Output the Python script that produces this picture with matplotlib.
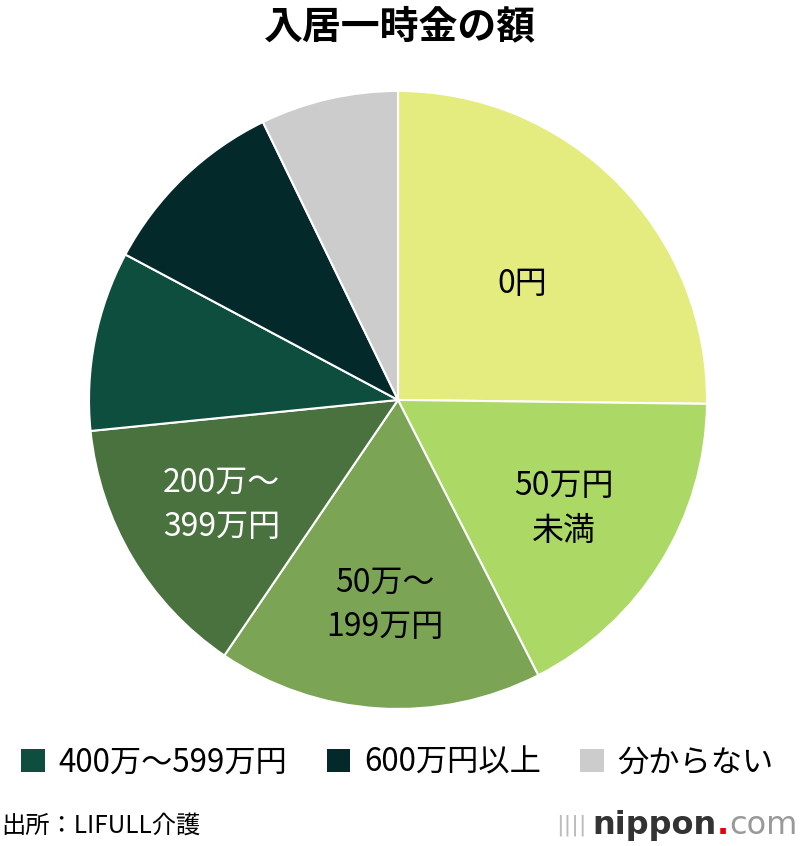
import matplotlib
matplotlib.use("Agg")
from matplotlib import pyplot as plt
from matplotlib.patches import Patch

plt.rcParams['font.family'] = ['Noto Sans CJK JP', 'DejaVu Sans']

# データ（%）
categories = ['0円', '50万円未満', '50万～199万円', '200万～399万円',
              '400万～599万円', '600万円以上', '分からない']
values = [25.2, 17.3, 17.0, 13.9, 9.4, 10.0, 7.2]
colors = ['#e4ec7f', '#acd866', '#7ca455', '#4a723f', '#0e4e3f', '#03292b', '#cccccc']
# 扇形の中に書くラベル
inner_labels = ['0円', '50万円\n未満', '50万～\n199万円', '200万～\n399万円', '', '', '']
label_colors = ['black', 'black', 'black', 'white', 'white', 'white', 'black']
legend_idx = [4, 5, 6]

fig = plt.figure(figsize=(8, 8.46), dpi=100)
ax = fig.add_axes([0.11125, 0.162, 0.7725, 0.7305])

wedges, texts = ax.pie(values, colors=colors, labels=inner_labels,
                       startangle=90, counterclock=False, labeldistance=0.665,
                       wedgeprops=dict(edgecolor='white', linewidth=1.5),
                       textprops=dict(fontsize=23, ha='center', va='center',
                                      linespacing=1.5))
for t, c in zip(texts, label_colors):
    t.set_color(c)
    t.set_ha('center')
# 0円のラベルは少し内側
x, y = texts[0].get_position()
texts[0].set_position((x * 0.85, y * 0.80))
# 50万円未満は少し左へ
x, y = texts[1].get_position()
texts[1].set_position((x * 0.95, y))

ax.set_xlim(-1, 1)
ax.set_ylim(-1, 1)
ax.set_aspect('equal')
ax.axis('off')

fig.text(0.5, 0.968, '入居一時金の額', ha='center', va='center',
         fontsize=28, fontweight='bold')

handles = [Patch(facecolor=colors[i], edgecolor='none') for i in legend_idx]
fig.legend(handles, [categories[i] for i in legend_idx], loc='center',
           bbox_to_anchor=(0.497, 0.099), ncol=3, frameon=False, fontsize=22.5,
           handlelength=0.75, handleheight=0.75, handletextpad=0.45,
           columnspacing=1.25)

fig.text(0.002, 0.024, '出所：LIFULL介護', ha='left', va='center', fontsize=17.5)

# ロゴ（右から並べる）
fig.canvas.draw()
W = fig.bbox.width
t3 = fig.text(0.997, 0.024, 'com', ha='right', va='center',
              fontsize=23, color='#999999', family='DejaVu Sans')
fig.canvas.draw()
t2 = fig.text(t3.get_window_extent().x0 / W, 0.024, '.', ha='right', va='center',
              fontsize=23, color='#e60012', fontweight='bold', family='DejaVu Sans')
fig.canvas.draw()
t1 = fig.text(t2.get_window_extent().x0 / W, 0.024, 'nippon', ha='right', va='center',
              fontsize=23, color='#333333', fontweight='bold', family='DejaVu Sans')
fig.canvas.draw()
fig.text(t1.get_window_extent().x0 / W - 0.008, 0.024, '||||', ha='right', va='center',
         fontsize=16, color='#bbbbbb', family='DejaVu Sans')

fig.savefig('out.png', dpi=100)
